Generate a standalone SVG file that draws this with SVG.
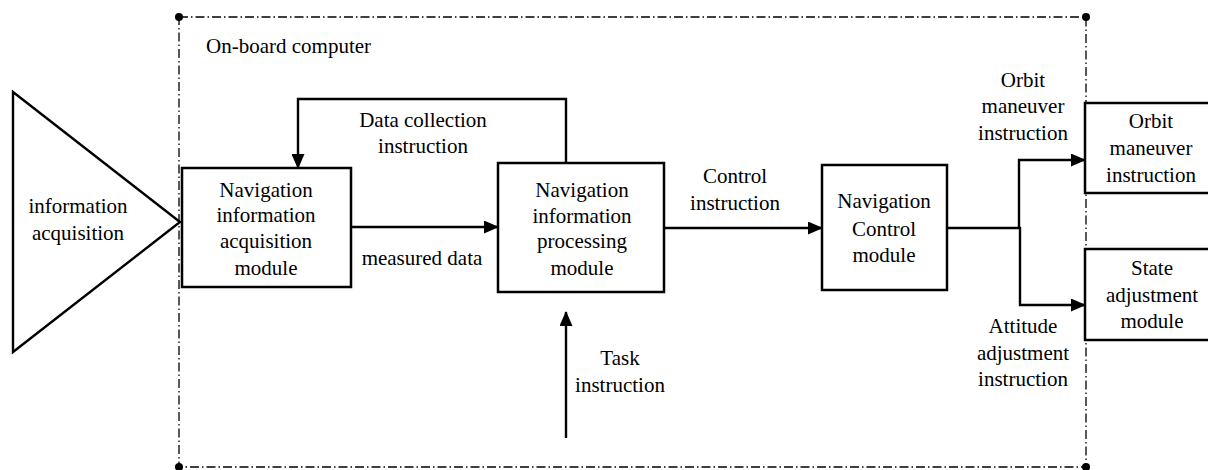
<svg xmlns="http://www.w3.org/2000/svg" width="1208" height="470" viewBox="0 0 1208 470">
<style>
text{font-family:"Liberation Serif","Times New Roman",serif;font-size:21px;fill:#000;text-anchor:middle}
.box{fill:#fff;stroke:#000;stroke-width:2.5}
.line{fill:none;stroke:#000;stroke-width:2.4}
.frame{fill:none;stroke:#000;stroke-width:1.3;stroke-dasharray:9 3 1.5 3}
</style>
<defs>
<marker id="arr" markerUnits="userSpaceOnUse" markerWidth="15" markerHeight="13" refX="14" refY="6.5" orient="auto">
<path d="M0,0 L15,6.5 L0,13 Z" fill="#000"/>
</marker>
</defs>
<rect width="1208" height="470" fill="#fff"/>
<g id="frame">
<rect class="frame" x="179" y="17" width="907" height="450"/>
<circle cx="179" cy="17" r="4"/>
<circle cx="1086" cy="17" r="4"/>
<circle cx="179" cy="467" r="4"/>
<circle cx="1086" cy="467" r="4"/>
<text x="206" y="53" style="text-anchor:start">On-board computer</text>
</g>
<g id="connectors">
<path class="line" d="M566,163 V99 H298 V168" marker-end="url(#arr)"/>
<path class="line" d="M351,227 H498" marker-end="url(#arr)"/>
<path class="line" d="M664,228 H822" marker-end="url(#arr)"/>
<path class="line" d="M566,438 V312" marker-end="url(#arr)"/>
<path class="line" d="M947,228 H1019 V160 H1085" marker-end="url(#arr)"/>
<path class="line" d="M1019,228 H1020 V305 H1085" marker-end="url(#arr)"/>
<text x="423" y="127">Data collection</text>
<text x="423" y="153">instruction</text>
<text x="422" y="265">measured data</text>
<text x="735" y="183">Control</text>
<text x="735" y="210">instruction</text>
<text x="620" y="365">Task</text>
<text x="620" y="392">instruction</text>
<text x="1023" y="87">Orbit</text>
<text x="1023" y="113">maneuver</text>
<text x="1023" y="140">instruction</text>
<text x="1023" y="333">Attitude</text>
<text x="1023" y="360">adjustment</text>
<text x="1023" y="386">instruction</text>
</g>
<g id="info-acq">
<path class="line" d="M13,92 L180,222 L13,352 Z"/>
<text x="78" y="213">information</text>
<text x="78" y="240">acquisition</text>
</g>
<g id="nav-acq">
<rect class="box" x="182" y="168" width="169" height="119"/>
<text x="266" y="197">Navigation</text>
<text x="266" y="222">information</text>
<text x="266" y="248">acquisition</text>
<text x="266" y="275">module</text>
</g>
<g id="nav-proc">
<rect class="box" x="498" y="163" width="166" height="129"/>
<text x="582" y="197">Navigation</text>
<text x="582" y="223">information</text>
<text x="582" y="248">processing</text>
<text x="582" y="275">module</text>
</g>
<g id="nav-ctrl">
<rect class="box" x="822" y="165" width="125" height="125"/>
<text x="884" y="208">Navigation</text>
<text x="884" y="236">Control</text>
<text x="884" y="262">module</text>
</g>
<g id="orbit">
<rect class="box" x="1085" y="103" width="140" height="90"/>
<text x="1151" y="128">Orbit</text>
<text x="1151" y="155">maneuver</text>
<text x="1151" y="182">instruction</text>
</g>
<g id="state">
<rect class="box" x="1085" y="249" width="140" height="91"/>
<text x="1152" y="275">State</text>
<text x="1152" y="302">adjustment</text>
<text x="1152" y="328">module</text>
</g>
</svg>
